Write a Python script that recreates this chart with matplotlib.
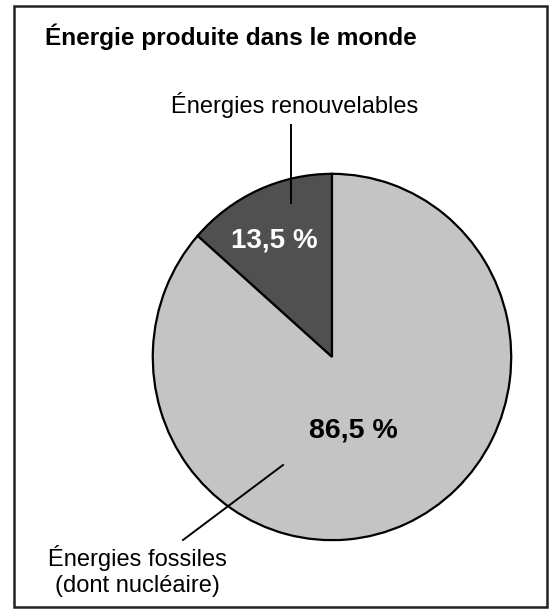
import matplotlib
matplotlib.use("Agg")
import matplotlib.pyplot as plt
from matplotlib.patches import Rectangle

# Data
categories = ["Énergies renouvelables", "Énergies fossiles\n(dont nucléaire)"]
values = [13.5, 86.5]
value_labels = ["13,5 %", "86,5 %"]
title = "Énergie produite dans le monde"

colors = ["#505050", "#c4c4c4"]
W, H = 551, 611
plt.rcParams['font.family'] = ['Liberation Sans', 'DejaVu Sans']

fig = plt.figure(figsize=(W / 100, H / 100), dpi=100)

# Pie axes (pixel geometry)
cx, cy, rx, ry = 332, 357, 181, 185
ax = fig.add_axes([(cx - rx) / W, (H - cy - ry) / H, 2 * rx / W, 2 * ry / H])
wedges, _ = ax.pie(values, colors=colors, startangle=90, counterclock=True,
                   wedgeprops=dict(edgecolor="black", linewidth=1.6))
ax.set_aspect('auto')
ax.set_xlim(-1.01, 1.01)
ax.set_ylim(-1.01, 1.01)

# Overlay axes in pixel coords for annotations
ov = fig.add_axes([0, 0, 1, 1], facecolor="none")
ov.set_xlim(0, W)
ov.set_ylim(H, 0)
ov.axis("off")

ov.add_patch(Rectangle((14, 6), 533, 601, fill=False, edgecolor="#222222", linewidth=1.8))

ov.text(45, 37, title, fontsize=17.6, fontweight="bold", ha="left", va="center")

ov.text(295, 105, categories[0], fontsize=17, ha="center", va="center")
ov.plot([291, 291], [125, 203], color="black", lw=1.4)

ov.text(274, 240, value_labels[0], fontsize=20, fontweight="bold", color="white", ha="center", va="center")
ov.text(353, 430, value_labels[1], fontsize=20.5, fontweight="bold", ha="center", va="center")

ov.plot([283, 183], [465, 540], color="black", lw=1.4)
ov.text(137, 571, categories[1], fontsize=17, ha="center", va="center", linespacing=1.22)

fig.savefig("out.png", dpi=100)
